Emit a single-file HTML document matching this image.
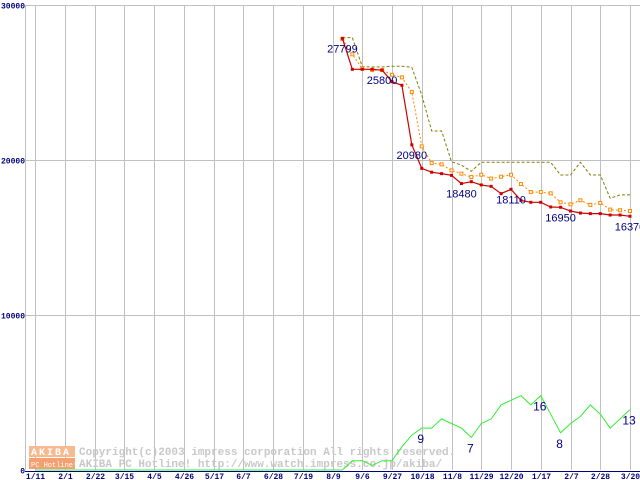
<!DOCTYPE html>
<html><head><meta charset="utf-8"><style>
html,body{margin:0;padding:0;background:#fff;}
svg{display:block;font-family:"Liberation Mono","DejaVu Sans Mono",monospace;}
</style></head><body>
<svg id="chart" width="640" height="480" viewBox="0 0 640 480" xmlns="http://www.w3.org/2000/svg">
<g id="grid"></g>
<g id="watermark">
  <rect x="29" y="446" width="46" height="11" fill="#f7b98f"/>
  <rect x="29" y="458" width="46" height="11" fill="#f4a070"/>
  <text x="31" y="455" font-size="10" fill="#fff" font-weight="bold" letter-spacing="2">AKIBA</text>
  <text x="31" y="467" font-size="7" fill="#fff">PC Hotline!</text>
  <text x="79" y="455" font-size="11" fill="#c8c8c8" font-weight="bold">Copyright(c)2003 impress corporation All rights reserved.</text>
  <text x="79" y="467" font-size="11" fill="#c8c8c8" font-weight="bold">AKIBA PC Hotline!  http://www.watch.impress.co.jp/akiba/</text>
</g>
<g id="series"></g>
<g id="labels"></g>
</svg>
<script>
const xTickLabels = ["1/11","2/1","2/22","3/15","4/5","4/26","5/17","6/7","6/28","7/19","8/9","9/6","9/27","10/18","11/8","11/29","12/20","1/17","2/7","2/28","3/20"];
const yTicks = [0,10000,20000,30000];
const startWeek = 31;
const priceMin = [27850,25850,25850,25850,25800,25050,24820,20980,19460,19210,19120,19010,18480,18600,18390,18300,17830,18110,17400,17270,17270,16970,16950,16710,16580,16540,16540,16450,16450,16370];
const priceAvg = [27800,26820,25900,25800,25800,25500,25330,24390,20880,19800,19720,19330,19120,18900,19050,18800,18920,19050,18450,17930,17930,17850,17270,17140,17400,17100,17230,16800,16760,16710];
const priceMax = [27900,27900,26020,26000,26000,26050,26050,25980,24190,21870,21870,19890,19670,19280,19850,19850,19850,19850,19850,19850,19850,19850,19030,19030,19850,19030,19030,17530,17750,17750];
const shopCount = [0,0,0,0,0,0,0,0,0,0,0,0,0,0,0,0,0,0,0,0,0,0,0,0,0,0,0,0,0,0,0,0,2,2,1,2,2,5,7.5,9,9,11,10,9,7,10,11,14,15,16,14,16,12,8,10,11.5,14,12,9,11,13];
const minLabels = [[0,"27799"],[4,"25800"],[7,"20980"],[12,"18480"],[17,"18110"],[22,"16950"],[29,"16370"]];
const countLabels = [[39,"9"],[44,"7"],[51,"16"],[53,"8"],[60,"13"]];
const countScale = 300;

const NS="http://www.w3.org/2000/svg";
const X0=35, WK=29.75/3, Y0=470, YS=155/10000;
const xw = w => X0 + w*WK;
const yv = v => Y0 - v*YS;
function mk(tag, attrs, parent){const e=document.createElementNS(NS,tag);for(const k in attrs)e.setAttribute(k,attrs[k]);parent.appendChild(e);return e;}
const grid=document.getElementById('grid'), ser=document.getElementById('series'), lab=document.getElementById('labels');

let e=mk('line',{x1:25.5,y1:yv(30000),x2:25.5,y2:Y0,stroke:'#c0c0c0'},grid);


xTickLabels.forEach((t,i)=>{
  const x=Math.round(xw(i*3))+0.5;
  const l=mk('line',{x1:x,y1:yv(30000),x2:x,y2:Y0,stroke:'#c0c0c0'},grid);
  
  
  const tx=mk('text',{x:x,y:479,'font-size':8,fill:'#000080','text-anchor':'middle','font-weight':'bold'},grid);
  tx.textContent=t;
  
  
});
yTicks.forEach(v=>{
  const y=Math.round(yv(v))+0.5;
  if(v>0){
    const l=mk('line',{x1:25,y1:y,x2:640,y2:y,stroke:'#c0c0c0'},grid);
    
    
  }
  const tx=mk('text',{x:25,y:y+3,'font-size':8,fill:'#000080','text-anchor':'end','font-weight':'bold'},grid);
  tx.textContent=String(v);
  
  
});
e=mk('line',{x1:25,y1:471.5,x2:640,y2:471.5,stroke:'#000080'},grid);



function poly(arr,start,scale,attrs,name){
  const pts=arr.map((v,i)=>xw(start+i).toFixed(1)+','+yv(v*scale).toFixed(1)).join(' ');
  const p=mk('polyline',Object.assign({points:pts,fill:'none'},attrs),ser);
  
  
}
poly(shopCount,0,countScale,{stroke:'#33ee33','stroke-width':1},'shop-count-line');
poly(priceMax,startWeek,1,{stroke:'#808000','stroke-width':1,'stroke-dasharray':'3,2'},'max-price-line');
poly(priceAvg,startWeek,1,{stroke:'#ff8800','stroke-width':1,'stroke-dasharray':'2,2'},'avg-price-line');
priceAvg.forEach((v,i)=>{
  const m=mk('rect',{x:xw(startWeek+i)-1.5,y:yv(v)-1.5,width:3,height:3,fill:'#fff',stroke:'#ff8800','stroke-width':1},ser);
  
  
});
poly(priceMin,startWeek,1,{stroke:'#cc0000','stroke-width':1.2},'min-price-line');
priceMin.forEach((v,i)=>{
  const m=mk('rect',{x:xw(startWeek+i)-1.5,y:yv(v)-1.5,width:3,height:3,fill:'#cc0000'},ser);
  
  
});
minLabels.forEach(([i,t])=>{
  const tx=mk('text',{x:xw(startWeek+i),y:yv(priceMin[i])+14,'font-size':11,fill:'#000080','text-anchor':'middle','font-family':'"Liberation Sans",sans-serif'},lab);
  tx.textContent=t;
  
  
});
countLabels.forEach(([i,t])=>{
  const tx=mk('text',{x:xw(i)-1,y:yv(shopCount[i]*countScale)+15,'font-size':12,fill:'#000080','text-anchor':'middle','font-family':'"Liberation Sans",sans-serif'},lab);
  tx.textContent=t;
  
  
});
</script>
</body></html>
